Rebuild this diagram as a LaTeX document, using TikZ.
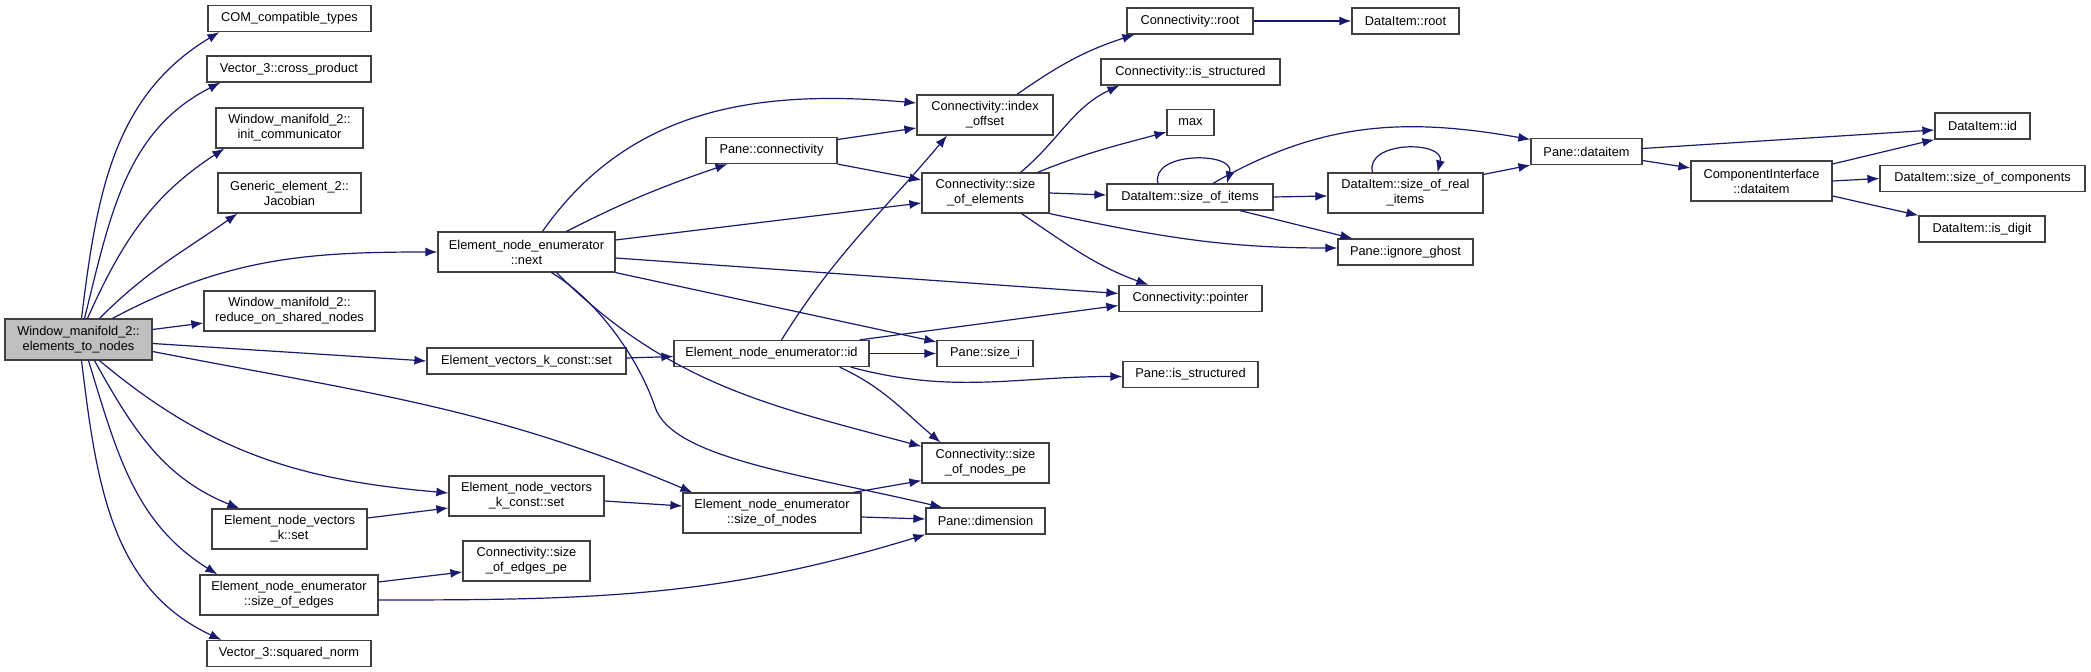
\documentclass[tikz,border=0pt]{standalone}
\usepackage{fontspec}
\setmainfont{Liberation Sans}
\usepackage{tikz}
\usetikzlibrary{arrows.meta, positioning, calc}
\definecolor{callblue}{HTML}{191970}
\definecolor{boxedge}{HTML}{404040}
\definecolor{rootgray}{HTML}{BFBFBF}
\tikzset{
    func/.style={draw=boxedge, fill=white, line width=1.2pt, inner sep=1pt, align=center,
        minimum height=26pt, font=\fontsize{12.8}{15}\selectfont},
    func2/.style={func, minimum height=40pt},
    calls/.style={draw=callblue, line width=1.2pt, -{Latex[length=12pt, width=9pt]}},
}
\begin{document}
\begin{tikzpicture}[x=1pt, y=1pt]
    \useasboundingbox (0,0) rectangle (2091,672);

    % Nodes
    \node (root) at (78.5, 332.5) [func2, fill=rootgray, minimum width=147pt, minimum height=41pt] {Window\_manifold\_2::\\elements\_to\_nodes};

    \node (comtypes) at (289.5, 653.5) [func, minimum width=163pt] {COM\_compatible\_types};
    \node (crossprod) at (289, 603) [func, minimum width=164pt] {Vector\_3::cross\_product};
    \node (initcomm) at (289.5, 544) [func2, minimum width=147pt] {Window\_manifold\_2::\\init\_communicator};
    \node (jacobian) at (289.5, 479) [func2, minimum width=143pt] {Generic\_element\_2::\\Jacobian};
    \node (reduce) at (289.5, 361) [func2, minimum width=171pt] {Window\_manifold\_2::\\reduce\_on\_shared\_nodes};
    \node (nvkset) at (289.5, 143) [func2, minimum width=155pt] {Element\_node\_vectors\\\_k::set};
    \node (sizeedges) at (289, 77) [func2, minimum width=178pt] {Element\_node\_enumerator\\::size\_of\_edges};
    \node (sqnorm) at (289, 18.5) [func, minimum width=164pt] {Vector\_3::squared\_norm};

    \node (enext) at (526.5, 420) [func2, minimum width=177pt] {Element\_node\_enumerator\\::next};
    \node (evkcset) at (526.5, 311) [func, minimum width=199pt] {Element\_vectors\_k\_const::set};
    \node (nvkcset) at (526.5, 176) [func2, minimum width=155pt] {Element\_node\_vectors\\\_k\_const::set};
    \node (edgespe) at (526.5, 111) [func2, minimum width=127pt] {Connectivity::size\\\_of\_edges\_pe};

    \node (pconn) at (771.5, 521.5) [func, minimum width=131pt] {Pane::connectivity};
    \node (enid) at (771.5, 318.5) [func, minimum width=195pt] {Element\_node\_enumerator::id};
    \node (sizenodes) at (772, 159) [func2, minimum width=178pt] {Element\_node\_enumerator\\::size\_of\_nodes};

    \node (idxoffset) at (985, 557) [func2, minimum width=136pt] {Connectivity::index\\\_offset};
    \node (sizeelems) at (985.5, 479) [func2, minimum width=127pt] {Connectivity::size\\\_of\_elements};
    \node (sizei) at (985, 318.5) [func, minimum width=96pt] {Pane::size\_i};
    \node (nodespe) at (985.5, 209) [func2, minimum width=127pt] {Connectivity::size\\\_of\_nodes\_pe};
    \node (pdim) at (985.5, 151) [func, minimum width=119pt] {Pane::dimension};

    \node (croot) at (1190, 651) [func, minimum width=126pt] {Connectivity::root};
    \node (cisstruct) at (1190.5, 600) [func, minimum width=179pt] {Connectivity::is\_structured};
    \node (maxfn) at (1190.5, 549.5) [func, minimum width=47pt] {max};
    \node (sizeitems) at (1190, 475) [func, minimum width=166pt] {DataItem::size\_of\_items};
    \node (pointer) at (1190.5, 373.5) [func, minimum width=143pt] {Connectivity::pointer};
    \node (pisstruct) at (1190.5, 297.5) [func, minimum width=135pt] {Pane::is\_structured};

    \node (droot) at (1405.5, 651) [func, minimum width=107pt] {DataItem::root};
    \node (realitems) at (1405.5, 479) [func2, minimum width=155pt] {DataItem::size\_of\_real\\\_items};
    \node (ghost) at (1405.5, 420) [func, minimum width=135pt] {Pane::ignore\_ghost};

    \node (pdataitem) at (1586.5, 520.5) [func, minimum width=111pt] {Pane::dataitem};
    \node (cidataitem) at (1761.5, 491) [func2, minimum width=141pt] {ComponentInterface\\::dataitem};

    \node (did) at (1982.5, 546) [func, minimum width=95pt] {DataItem::id};
    \node (dcomps) at (1982.5, 493.5) [func, minimum width=205pt] {DataItem::size\_of\_components};
    \node (isdigit) at (1982, 443) [func, minimum width=126pt] {DataItem::is\_digit};

    % Edges
    \draw[calls] ([xshift=3pt]root.north) to[out=83, in=211] ([xshift=12pt]comtypes.south west);
    \draw[calls] ([xshift=6pt]root.north) to[out=76, in=207] ([xshift=14pt]crossprod.south west);
    \draw[calls] ([xshift=9pt]root.north) to[out=66, in=213] ([xshift=9pt]initcomm.south west);
    \draw[calls] ([xshift=21pt]root.north) to[out=45, in=215] ([xshift=20pt]jacobian.south west);
    \draw[calls] ([xshift=34pt]root.north) to[out=28, in=180] (enext.west);
    \draw[calls] ([yshift=10pt]root.east) -- ([yshift=-12pt]reduce.west);
    \draw[calls] ([yshift=-4pt]root.east) -- (evkcset.west);
    \draw[calls] ([yshift=-12pt]root.east) to[out=-11, in=157] ([xshift=10pt]sizenodes.north west);
    \draw[calls] ([xshift=21pt]root.south) to[out=-40, in=175] ([yshift=3pt]nvkcset.west);
    \draw[calls] ([xshift=16pt]root.south) to[out=-61, in=158] ([xshift=28pt]nvkset.north west);
    \draw[calls] ([xshift=10pt]root.south) to[out=-73, in=148] ([xshift=18pt]sizeedges.north west);
    \draw[calls] ([xshift=3pt]root.south) to[out=-83, in=155] ([xshift=15pt]sqnorm.north west);

    \draw[calls] ([yshift=11pt]nvkset.east) -- ([yshift=-12pt]nvkcset.west);
    \draw[calls] ([yshift=13pt]sizeedges.east) -- ([yshift=-11pt]edgespe.west);
    \draw[calls] ([yshift=-5pt]sizeedges.east) to[out=0, in=197] (pdim.south west);
    \draw[calls] ([yshift=3pt]evkcset.east) -- ([yshift=-3pt]enid.west);
    \draw[calls] ([yshift=-5pt]nvkcset.east) -- ([yshift=7pt]sizenodes.west);
    \draw[calls] ([xshift=-8pt]sizenodes.north east) -- ([yshift=3pt]nodespe.south west);
    \draw[calls] ([yshift=-4pt]sizenodes.east) -- ([yshift=2pt]pdim.west);

    \draw[calls] ([xshift=16pt]enext.north) to[out=55, in=175] ([yshift=12pt]idxoffset.west);
    \draw[calls] ([xshift=40pt]enext.north) to[out=27, in=199] ([xshift=22pt]pconn.south west);
    \draw[calls] ([yshift=12pt]enext.east) -- ([yshift=-10pt]sizeelems.west);
    \draw[calls] ([yshift=-6pt]enext.east) -- ([yshift=5pt]pointer.west);
    \draw[calls] (enext.south east) -- ([yshift=-2pt]sizei.north west);
    \draw[calls] ([xshift=30pt]enext.south) to[out=-45, in=165] ([yshift=-4pt]nodespe.north west);
    \draw[calls] ([xshift=25pt]enext.south) .. controls (600,370) and (640,310) .. (655,265)
        .. controls (672,214) and (800,198) .. ([xshift=17pt]pdim.north west);

    \draw[calls] ([yshift=11pt]pconn.east) -- ([yshift=-13pt]idxoffset.west);
    \draw[calls] (pconn.south east) -- ([yshift=13pt]sizeelems.west);

    \draw[calls] ([xshift=10pt]enid.north) to[out=58, in=230] ([xshift=-38pt]idxoffset.south);
    \draw[calls] ([xshift=-10pt]enid.north east) -- ([yshift=-7pt]pointer.west);
    \draw[calls] (enid.east) -- (sizei.west);
    \draw[calls] ([xshift=-19pt]enid.south east) to[out=-15, in=180] ([yshift=-2pt]pisstruct.west);
    \draw[calls] ([xshift=-30pt]enid.south east) to[out=-25, in=140] ([xshift=-45pt]nodespe.north);

    \draw[calls] ([xshift=35pt]sizeelems.north) to[out=40, in=205] ([xshift=19pt]cisstruct.south west);
    \draw[calls] ([xshift=52pt]sizeelems.north) to[out=22, in=195] ([yshift=4pt]maxfn.south west);
    \draw[calls] (sizeelems.east) -- ([yshift=2pt]sizeitems.west);
    \draw[calls] ([xshift=36pt]sizeelems.south) to[out=-34, in=160] ([xshift=30pt]pointer.north west);
    \draw[calls] (sizeelems.south east) to[out=-12, in=180] ([yshift=4pt]ghost.west);

    \draw[calls] ([xshift=32pt]idxoffset.north) to[out=35, in=198] ([xshift=8pt]croot.south west);
    \draw[calls] (croot.east) -- (droot.west);

    \draw[calls] ([xshift=-32pt]sizeitems.north) .. controls +(-8,32) and +(8,32) .. ([xshift=37pt]sizeitems.north);
    \draw[calls] ([xshift=23pt]sizeitems.north) to[out=30, in=170] ([yshift=12pt]pdataitem.west);
    \draw[calls] (sizeitems.east) -- ([yshift=-3pt]realitems.west);
    \draw[calls] ([xshift=50pt]sizeitems.south) -- ([xshift=15pt]ghost.north west);

    \draw[calls] ([xshift=-33pt]realitems.north) .. controls +(-8,32) and +(8,32) .. ([xshift=32pt]realitems.north);
    \draw[calls] ([yshift=-2pt]realitems.north east) -- (pdataitem.south west);

    \draw[calls] ([yshift=3pt]pdataitem.east) -- ([yshift=-4pt]did.west);
    \draw[calls] ([yshift=-9pt]pdataitem.east) -- ([yshift=13pt]cidataitem.west);

    \draw[calls] ([yshift=17pt]cidataitem.east) -- (did.south west);
    \draw[calls] (cidataitem.east) -- (dcomps.west);
    \draw[calls] ([yshift=-15pt]cidataitem.east) -- (isdigit.north west);

\end{tikzpicture}
\end{document}
